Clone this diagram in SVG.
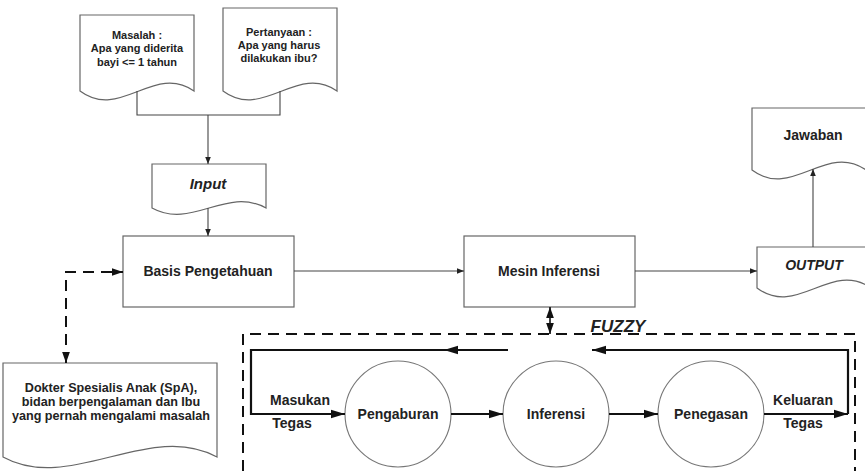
<svg xmlns="http://www.w3.org/2000/svg" width="865" height="471" viewBox="0 0 865 471">
  <defs>
    <marker id="ah-s" viewBox="0 0 10 10" refX="10" refY="5" markerWidth="7" markerHeight="7" markerUnits="userSpaceOnUse" orient="auto-start-reverse">
      <path d="M0,1 L10,5 L0,9 Z" fill="#222"/>
    </marker>
    <marker id="ah-m" viewBox="0 0 10 10" refX="10" refY="5" markerWidth="11" markerHeight="11" markerUnits="userSpaceOnUse" orient="auto-start-reverse">
      <path d="M0,1.5 L10,5 L0,8.5 Z" fill="#111"/>
    </marker>
    <marker id="ah-l" viewBox="0 0 10 10" refX="10" refY="5" markerWidth="14" markerHeight="14" markerUnits="userSpaceOnUse" orient="auto-start-reverse">
      <path d="M0,2 L10,5 L0,8 Z" fill="#111"/>
    </marker>
  </defs>
  <style>
    .shape { fill: #fff; stroke: #666; stroke-width: 1.2; }
    .circ { fill: #fff; stroke: #777; stroke-width: 1.1; }
    .thin { fill: none; stroke: #444; stroke-width: 1.1; }
    .thick { fill: none; stroke: #111; stroke-width: 2.2; }
    .dash { fill: none; stroke: #111; stroke-width: 2; stroke-dasharray: 11 7; }
    text { font-family: "Liberation Sans", Arial, sans-serif; font-weight: bold; fill: #222; text-anchor: middle; }
    .t11 { font-size: 11px; }
    .t13 { font-size: 12.6px; }
    .t14 { font-size: 14px; }
    .it { font-style: italic; }
  </style>

  <rect width="865" height="471" fill="#fff"/>

  <g id="masalah">
    <path class="shape" d="M80,15 H194 V91 C154,63 120,121 80,91 Z"/>
    <text class="t11" x="137" y="39">Masalah :</text>
    <text class="t11" x="137" y="52">Apa yang diderita</text>
    <text class="t11" x="137" y="66">bayi &lt;= 1 tahun</text>
  </g>

  <g id="pertanyaan">
    <path class="shape" d="M223,8 H337 V91 C297,63 263,121 223,91 Z"/>
    <text class="t11" x="279" y="36">Pertanyaan :</text>
    <text class="t11" x="279" y="49">Apa yang harus</text>
    <text class="t11" x="279" y="62">dilakukan ibu?</text>
  </g>

  <g id="input">
    <path class="shape" d="M152,164 H266 V208 C226,186 192,230 152,208 Z"/>
    <text class="it" x="208" y="189" style="font-size:15px">Input</text>
  </g>

  <g id="basis">
    <rect class="shape" x="123" y="236" width="171" height="71"/>
    <text class="t14" x="208" y="276">Basis Pengetahuan</text>
  </g>

  <g id="mesin">
    <rect class="shape" x="464" y="236" width="171" height="71"/>
    <text class="t14" x="549" y="276">Mesin Inferensi</text>
  </g>

  <g id="output">
    <path class="shape" d="M757,247 H871 V288 C831,260 797,318 757,288 Z"/>
    <text class="t14 it" x="814" y="270">OUTPUT</text>
  </g>

  <g id="jawaban">
    <path class="shape" d="M752,108 H866 V170 C826,142 792,200 752,170 Z"/>
    <text class="t14" x="813" y="140">Jawaban</text>
  </g>

  <g id="dokter">
    <path class="shape" d="M3,363 H217 V457 C150,420 70,494 3,457 Z"/>
    <text class="t13" x="111" y="392">Dokter Spesialis Anak (SpA),</text>
    <text class="t13" x="111" y="406">bidan berpengalaman dan Ibu</text>
    <text class="t13" x="111" y="420">yang pernah mengalami masalah</text>
  </g>

  <g id="fuzzy">
    <path class="dash" d="M243,471 V334 H855 V471"/>
    <text class="it" x="618" y="332" style="font-size:17px">FUZZY</text>
  </g>

  <g id="pengaburan">
    <circle class="circ" cx="398" cy="414" r="53"/>
    <text class="t14" x="398" y="419">Pengaburan</text>
  </g>

  <g id="inferensi">
    <circle class="circ" cx="556" cy="414" r="53"/>
    <text class="t14" x="556" y="419">Inferensi</text>
  </g>

  <g id="penegasan">
    <circle class="circ" cx="711" cy="414" r="53"/>
    <text class="t14" x="711" y="419">Penegasan</text>
  </g>

  <g id="labels">
    <text class="t14" x="300" y="405">Masukan</text>
    <text class="t14" x="292" y="428">Tegas</text>
    <text class="t14" x="803" y="405">Keluaran</text>
    <text class="t14" x="803" y="428">Tegas</text>
  </g>

  <g id="connectors">
    <path class="thin" d="M137,91 V115 H280 V91"/>
    <path class="thin" d="M208,115 V164" marker-end="url(#ah-s)"/>
    <path class="thin" d="M208,208 V236" marker-end="url(#ah-s)"/>
    <path class="thin" d="M294,271 H464" marker-end="url(#ah-s)"/>
    <path class="thin" d="M635,271 H757" marker-end="url(#ah-s)"/>
    <path class="thin" d="M813,247 V169" marker-end="url(#ah-s)"/>
    <path class="dash" d="M66,363 V272 H123" marker-start="url(#ah-m)" marker-end="url(#ah-m)"/>
    <path class="thick" style="stroke-width:1.6" d="M550,307 V334" marker-start="url(#ah-m)" marker-end="url(#ah-m)"/>
    <path class="thick" d="M508,350 H444" marker-end="url(#ah-l)"/>
    <path class="thick" d="M444,350 H251 V414 H345" marker-end="url(#ah-l)"/>
    <path class="thick" d="M451,414 H503" marker-end="url(#ah-l)"/>
    <path class="thick" d="M609,414 H658" marker-end="url(#ah-l)"/>
    <path class="thick" d="M764,414 H848" marker-end="url(#ah-l)"/>
    <path class="thick" d="M848,414 V350 H592" marker-end="url(#ah-l)"/>
  </g>
</svg>
